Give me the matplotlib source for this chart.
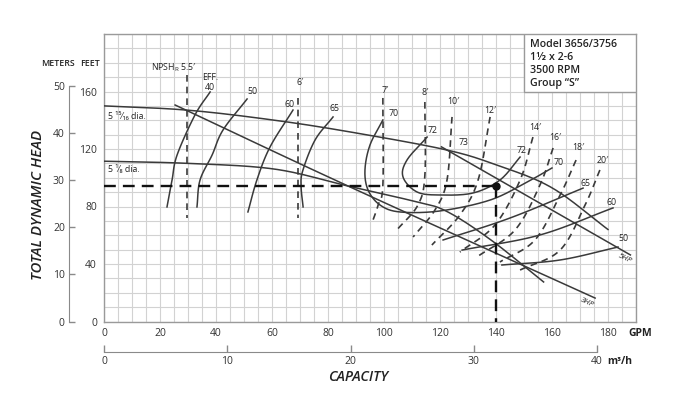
import numpy as np
import matplotlib
matplotlib.use("Agg")
import matplotlib.pyplot as plt
from matplotlib.patches import Rectangle

plt.rcParams['font.family'] = ['Open Sans', 'DejaVu Sans']

# ---------------- data (GPM, feet) ----------------
GPM_TICKS = [0, 20, 40, 60, 80, 100, 120, 140, 160, 180]
FT_TICKS = [0, 40, 80, 120, 160]
M_TICKS = [0, 10, 20, 30, 40, 50]
M3H_TICKS = [0, 10, 20, 30, 40]

# impeller head curves
dia1516_q = [0, 30, 61, 89, 122, 140, 160, 180]
dia1516_h = [150, 147, 140, 131.5, 119.5, 109, 93, 64]
dia518_q = [0, 30, 61, 87, 110, 122, 138, 157]
dia518_h = [111.5, 110, 106, 94.3, 84, 77, 57, 27.5]

# horsepower lines
hp3_q = [25.4, 87.1, 175.4]
hp3_h = [150.6, 94.3, 16.3]
hp5_q = [120.5, 188]
hp5_h = [121.5, 46.3]

# efficiency contours
eff40_q = [37.9, 32.5, 26.1, 24.3, 22.5]
eff40_h = [159.7, 143.7, 115.8, 98.4, 79.7]
eff50_q = [51.1, 42.5, 38.6, 34.3, 33.2]
eff50_h = [154.8, 133.2, 115.8, 98.4, 79.7]
eff60_q = [67.5, 59.3, 54.6, 51.4]
eff60_h = [147.1, 121.4, 98.4, 76.2]
eff65_q = [81.8, 75.4, 71.0, 70.4, 71.1]
eff65_h = [142.3, 126.3, 105.0, 94.0, 79.7]
eff70_q = [99.6, 95.0, 93.2, 94.3, 98.6, 105.7, 120.0, 137.9, 151.1, 160.0]
eff70_h = [140.2, 122.8, 105.4, 91.5, 81.0, 76.2, 76.9, 84.5, 97.0, 106.8]
eff72_q = [115.4, 108.2, 106.8, 111.8, 120.0, 131.8, 141.4, 148.6]
eff72_h = [128.3, 112.3, 100.5, 90.1, 88.0, 89.4, 98.4, 114.4]
eff65r_q = [121.1, 145.0, 171.1]
eff65r_h = [56.7, 72.0, 92.8]
eff60r_q = [127.9, 155.7, 181.8]
eff60r_h = [49.7, 60.2, 79.0]
eff50r_q = [142.1, 162.9, 183.6]
eff50r_h = [39.3, 42.8, 51.8]

# NPSHR curves
npsh55_q = [29.6, 29.6]
npsh55_h = [171.5, 72.0]
npsh6_q = [69.3, 69.3]
npsh6_h = [155.5, 72.0]
npsh7_q = [99.6, 99.6, 97.9, 95.7]
npsh7_h = [155.5, 95.0, 81.0, 68.5]
npsh8_q = [114.6, 114.6, 112.1, 104.6]
npsh8_h = [152.7, 101.9, 81.0, 63.7]
npsh10_q = [124.3, 122.5, 118.2, 110.4]
npsh10_h = [142.3, 98.4, 77.6, 58.8]
npsh12_q = [137.9, 133.6, 127.1, 117.1]
npsh12_h = [142.3, 98.4, 74.1, 53.2]
npsh14_q = [153.2, 148.6, 139.6, 127.1]
npsh14_h = [128.3, 98.4, 67.1, 48.3]
npsh16_q = [160.4, 155.7, 146.8, 133.2]
npsh16_h = [120.7, 95.0, 63.7, 44.9]
npsh18_q = [168.6, 162.9, 153.9, 141.4]
npsh18_h = [112.3, 88.0, 56.7, 41.4]
npsh20_q = [177.1, 171.8, 162.9, 148.6]
npsh20_h = [105.4, 81.0, 49.7, 35.8]

# duty point
duty_q = 140
duty_h = 94.3


def smooth(q, h, n=30):
    pts = np.column_stack([q, h]).astype(float)
    if len(pts) < 3:
        return pts[:, 0], pts[:, 1]
    P = np.vstack([2 * pts[0] - pts[1], pts, 2 * pts[-1] - pts[-2]])
    out = []
    t = np.linspace(0, 1, n, endpoint=False)[:, None]
    for i in range(1, len(P) - 2):
        p0, p1, p2, p3 = P[i - 1], P[i], P[i + 1], P[i + 2]
        seg = 0.5 * ((2 * p1) + (-p0 + p2) * t + (2 * p0 - 5 * p1 + 4 * p2 - p3) * t ** 2
                     + (-p0 + 3 * p1 - 3 * p2 + p3) * t ** 3)
        out.append(seg)
    out.append(pts[-1:])
    r = np.vstack(out)
    return r[:, 0], r[:, 1]


W, H = 686, 396
fig = plt.figure(figsize=(W / 100, H / 100), dpi=100)
L, R, T, B = 104, 636, 34, 321.5
ax = fig.add_axes([L / W, (H - B) / H, (R - L) / W, (B - T) / H])
ax.set_xlim(0, 190)
ax.set_ylim(0, 200)

TXT = '#333333'
LINE = '#3a3a3a'

ax.set_xticks(GPM_TICKS)
ax.set_xticks(np.arange(0, 191, 5), minor=True)
ax.set_yticks(FT_TICKS)
ax.set_yticks(np.arange(0, 201, 10), minor=True)
ax.grid(which='both', color='#d2d2d2', lw=0.8)
ax.set_axisbelow(True)
ax.tick_params(which='both', length=0, labelsize=7.5, labelcolor=TXT)
ax.tick_params(axis='x', pad=5)
ax.tick_params(axis='y', pad=5)
for s in ax.spines.values():
    s.set_color('#9a9a9a')
    s.set_linewidth(1.0)

# meters axis
sec = ax.secondary_yaxis(-35 / (R - L), functions=(lambda f: f * 0.3048, lambda m: m / 0.3048))
sec.set_yticks(M_TICKS)
sec.spines['left'].set_bounds(0, 50)
sec.spines['left'].set_color('#8a8a8a')
sec.tick_params(direction='in', length=4, width=1, color='#8a8a8a', labelsize=7.5,
                labelcolor=TXT, pad=3)

# m3/h axis
sec2 = ax.secondary_xaxis(-30.5 / (B - T), functions=(lambda g: g / 4.40287, lambda m: m * 4.40287))
sec2.set_xticks(M3H_TICKS)
sec2.spines['bottom'].set_bounds(0, 40)
sec2.spines['bottom'].set_color('#8a8a8a')
sec2.tick_params(direction='in', length=5, width=1, color='#8a8a8a', labelsize=7.5,
                 labelcolor=TXT, pad=3)

# head curves and HP lines
for q, h in [(dia1516_q, dia1516_h), (dia518_q, dia518_h), (hp3_q, hp3_h), (hp5_q, hp5_h)]:
    x, y = smooth(q, h)
    ax.plot(x, y, color=LINE, lw=1.1, zorder=3)

# efficiency curves
for q, h in [(eff40_q, eff40_h), (eff50_q, eff50_h), (eff60_q, eff60_h), (eff65_q, eff65_h),
             (eff70_q, eff70_h), (eff72_q, eff72_h), (eff65r_q, eff65r_h),
             (eff60r_q, eff60r_h), (eff50r_q, eff50r_h)]:
    x, y = smooth(q, h)
    ax.plot(x, y, color=LINE, lw=1.1, zorder=3)

# NPSH dashed
for q, h in [(npsh55_q, npsh55_h), (npsh6_q, npsh6_h), (npsh7_q, npsh7_h), (npsh8_q, npsh8_h),
             (npsh10_q, npsh10_h), (npsh12_q, npsh12_h), (npsh14_q, npsh14_h),
             (npsh16_q, npsh16_h), (npsh18_q, npsh18_h), (npsh20_q, npsh20_h)]:
    x, y = smooth(q, h)
    ax.plot(x, y, color=LINE, lw=1.2, dashes=(4, 3), zorder=3)

# duty point
ax.plot([0, duty_q], [duty_h, duty_h], color='#111111', lw=1.7, dashes=(5, 3), zorder=4)
ax.plot([duty_q, duty_q], [duty_h, 0], color='#111111', lw=1.7, dashes=(5, 3), zorder=4)
ax.plot([duty_q], [duty_h], 'o', color='#111111', ms=5, zorder=5)

# model box
ax.add_patch(Rectangle((150, 160), 40, 40, facecolor='white', edgecolor='#9a9a9a', lw=1, zorder=4))
for i, s in enumerate(['Model 3656/3756', '1¹⁄₂ x 2-6', '3500 RPM', 'Group “S”']):
    ax.text(152.3, 193 - 9.1 * i, s, fontsize=7.7, fontweight='semibold', color='#222222',
            ha='left', va='center', zorder=6)

# curve labels
fs = 6.3
lab = dict(fontsize=fs, color='#222222', ha='center', va='center', zorder=6)
ax.text(1.4, 142.3, '5 ¹⁵⁄₁₆ dia.', fontsize=fs, color='#222222', ha='left', va='center', zorder=6)
ax.text(1.4, 105.4, '5 ¹⁄₈ dia.', fontsize=fs, color='#222222', ha='left', va='center', zorder=6)
ax.text(25, 176.3, r'NPSH$_\mathregular{R}$ 5.5′', **lab)
ax.text(37.9, 170, 'EFF.', **lab)
ax.text(37.9, 163, '40', **lab)
ax.text(52.9, 159.7, '50', **lab)
ax.text(70, 166, '6′', **lab)
ax.text(66.4, 151.3, '60', **lab)
ax.text(82.5, 148.5, '65', **lab)
ax.text(100.4, 161, '7′', **lab)
ax.text(103.5, 145, '70', **lab)
ax.text(114.6, 159, '8′', **lab)
ax.text(117.5, 133.2, '72', **lab)
ax.text(124.6, 152.7, '10′', **lab)
ax.text(128.5, 124.2, '73', **lab)
ax.text(137.9, 147.1, '12′', **lab)
ax.text(153.9, 135.3, '14′', **lab)
ax.text(149.3, 119.3, '72', **lab)
ax.text(161, 127.7, '16′', **lab)
ax.text(162.3, 110.3, '70', **lab)
ax.text(169.3, 120.7, '18′', **lab)
ax.text(171.8, 96.3, '65', **lab)
ax.text(178.2, 112.3, '20′', **lab)
ax.text(181.4, 83.1, '60', **lab)
ax.text(185.4, 57.4, '50', **lab)
ax.text(186, 43.5, '5HP', fontsize=5.8, fontstyle='italic', color='#222222', ha='center',
        va='center', rotation=-25, zorder=6)
ax.text(172.5, 13.3, '3HP', fontsize=5.8, fontstyle='italic', color='#222222', ha='center',
        va='center', rotation=-25, zorder=6)

# outside texts
def ft(x, y, s, **kw):
    fig.text(x / W, 1 - y / H, s, **kw)

ft(58, 63, 'METERS', fontsize=6.3, fontweight='semibold', color='#222222', ha='center', va='center')
ft(90, 63, 'FEET', fontsize=6.3, fontweight='semibold', color='#222222', ha='center', va='center')
ft(640, 333, 'GPM', fontsize=7.5, fontweight='bold', color='#222222', ha='center', va='center')
ft(620, 362, 'm³/h', fontsize=7.5, fontweight='bold', color='#222222', ha='center', va='center')
ft(38, 205, 'TOTAL DYNAMIC HEAD', fontsize=10.8, fontstyle='italic', fontweight='semibold',
   color='#222222', ha='center', va='center', rotation=90)
ft(358, 377, 'CAPACITY', fontsize=10.3, fontstyle='italic', fontweight='semibold',
   color='#222222', ha='center', va='center')

fig.savefig('out.png', dpi=100)
